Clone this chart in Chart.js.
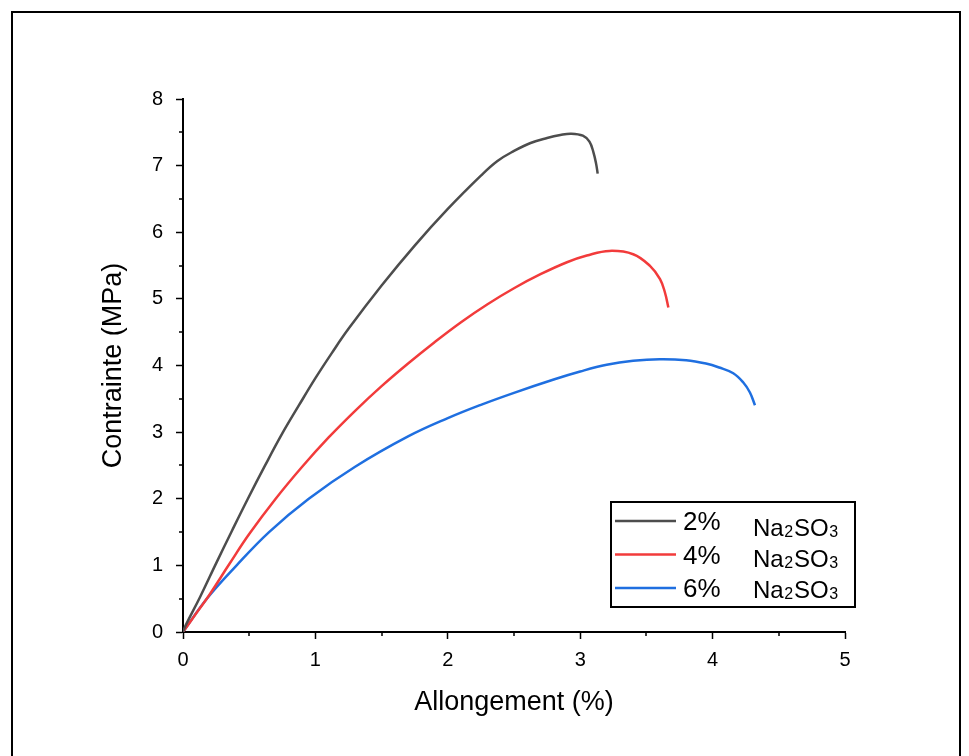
<!DOCTYPE html>
<html lang="fr">
<head>
<meta charset="utf-8">
<title>Contrainte - Allongement</title>
<script src="https://cdn.jsdelivr.net/npm/chart.js@4.4.1/dist/chart.umd.min.js"></script>
<style>
  html, body { margin: 0; padding: 0; background: #fff; }
  #cadre { width: 969px; height: 756px; }
</style>
</head>
<body>
<div id="cadre"><canvas id="graficaTraccion"></canvas></div>
<script>
// Courbes contrainte / allongement pour trois taux de Na2SO3
const etiquettes = ['2%', '4%', '6%'];
const couleurs = ['#4d4d4d', '#f23b3b', '#1f6fe0'];

// 2 % Na2SO3
const allong2 = [0, 0.02, 0.13, 0.25, 0.37, 0.49, 0.62, 0.75, 0.875, 1.0,  1.125, 1.25, 1.5,  1.75, 2.0,  2.25, 2.375, 2.5,  2.625, 2.75,  2.85, 2.93, 3.02, 3.07, 3.10, 3.12, 3.132];
const contr2  = [0, 0.1,  0.53, 1.03, 1.52, 2.0,  2.5,  2.98, 3.40,  3.81, 4.19,  4.55, 5.20, 5.80, 6.35, 6.85, 7.07,  7.22, 7.34,  7.415, 7.46, 7.48, 7.45, 7.36, 7.20, 7.03, 6.88];

// 4 % Na2SO3
const allong4 = [0, 0.1,  0.2,  0.35, 0.5,  0.7, 0.9,  1.1,  1.3,  1.5,  1.7,  1.9,  2.1,  2.3,  2.5,  2.7,  2.9,  3.05, 3.22, 3.40, 3.527, 3.603, 3.64, 3.666];
const contr4  = [0, 0.28, 0.56, 1.02, 1.47, 2.0, 2.48, 2.92, 3.32, 3.69, 4.03, 4.35, 4.65, 4.92, 5.16, 5.37, 5.55, 5.65, 5.72, 5.67, 5.495, 5.296, 5.096, 4.87];

// 6 % Na2SO3
const allong6 = [0, 0.18, 0.4,  0.65, 0.95, 1.3,  1.7,   2.0,  2.25, 2.5,  2.8,  3.0,  3.2,  3.4,  3.6,   3.8,  3.95, 4.05, 4.156, 4.232, 4.282, 4.32];
const contr6  = [0, 0.5,  0.99, 1.5,  2.0,  2.48, 2.935, 3.21, 3.41, 3.59, 3.79, 3.91, 4.01, 4.07, 4.095, 4.08, 4.03, 3.97, 3.884, 3.745, 3.595, 3.404];

const ticksX = [0, 1, 2, 3, 4, 5];
const ticksY = [0, 1, 2, 3, 4, 5, 6, 7, 8];

const police = '"Liberation Sans", Arial, sans-serif';

function points(xs, ys) {
  return xs.map((x, i) => ({ x: x, y: ys[i] }));
}

// Cadre noir autour de la figure
const cadre = {
  id: 'cadre',
  beforeDraw(chart) {
    const ctx = chart.ctx;
    ctx.save();
    ctx.fillStyle = '#fff';
    ctx.fillRect(0, 0, chart.width, chart.height);
    ctx.strokeStyle = '#000';
    ctx.lineWidth = 2;
    ctx.beginPath();
    ctx.moveTo(12, chart.height);
    ctx.lineTo(12, 12);
    ctx.lineTo(960, 12);
    ctx.lineTo(960, chart.height);
    ctx.stroke();
    ctx.restore();
  }
};

// Petites graduations intermédiaires (tous les 0,5)
const graduations = {
  id: 'graduations',
  afterDraw(chart) {
    const ctx = chart.ctx;
    const sx = chart.scales.x, sy = chart.scales.y;
    ctx.save();
    ctx.strokeStyle = '#000';
    ctx.lineWidth = 1.5;
    ctx.beginPath();
    for (let v = 0.5; v < 5; v += 1) {
      const px = Math.round(sx.getPixelForValue(v));
      ctx.moveTo(px, sy.bottom);
      ctx.lineTo(px, sy.bottom + 4);
    }
    for (let v = 0.5; v < 8; v += 1) {
      const py = Math.round(sy.getPixelForValue(v));
      ctx.moveTo(sx.left, py);
      ctx.lineTo(sx.left - 4, py);
    }
    ctx.stroke();
    ctx.restore();
  }
};

// Légende encadrée avec formule chimique en indices
const legende = {
  id: 'legende',
  afterDraw(chart) {
    const ctx = chart.ctx;
    const area = chart.chartArea;
    const x0 = area.right - 234, y0 = area.top + 403;
    ctx.save();
    ctx.strokeStyle = '#000';
    ctx.lineWidth = 2;
    ctx.strokeRect(x0, y0, 244, 105);
    chart.data.datasets.forEach((ds, i) => {
      const yl = y0 + 19 + i * 33.5;
      ctx.strokeStyle = ds.borderColor;
      ctx.lineWidth = 2.5;
      ctx.beginPath();
      ctx.moveTo(x0 + 4, yl);
      ctx.lineTo(x0 + 65, yl);
      ctx.stroke();

      ctx.fillStyle = '#000';
      ctx.textBaseline = 'alphabetic';
      ctx.textAlign = 'left';
      ctx.font = '26px ' + police;
      ctx.fillText(ds.label, x0 + 72, yl + 9);

      // Na2SO3
      let tx = x0 + 142;
      const ty = y0 + 34 + i * 30.8;
      const morceaux = [['Na', false], ['2', true], ['SO', false], ['3', true]];
      morceaux.forEach(([t, indice]) => {
        ctx.font = (indice ? '16px ' : '24px ') + police;
        ctx.fillText(t, tx, ty + (indice ? 1 : 0));
        tx += ctx.measureText(t).width + (indice ? 1 : 0.5);
      });
    });
    ctx.restore();
  }
};

const ctx = document.getElementById('graficaTraccion').getContext('2d');

new Chart(ctx, {
  type: 'line',
  data: {
    datasets: [
      { label: etiquettes[0], data: points(allong2, contr2), borderColor: couleurs[0] },
      { label: etiquettes[1], data: points(allong4, contr4), borderColor: couleurs[1] },
      { label: etiquettes[2], data: points(allong6, contr6), borderColor: couleurs[2] }
    ]
  },
  options: {
    responsive: true,
    maintainAspectRatio: false,
    animation: false,
    layout: { padding: { left: 0, top: 99, right: 124, bottom: 0 } },
    elements: {
      point: { radius: 0 },
      line: { borderWidth: 2.5, tension: 0.4, fill: false }
    },
    plugins: {
      legend: { display: false },
      tooltip: { enabled: false }
    },
    scales: {
      x: {
        type: 'linear',
        min: 0,
        max: 5,
        afterBuildTicks: s => { s.ticks = ticksX.map(v => ({ value: v })); },
        afterFit: s => { s.height = 124; },
        grid: { drawOnChartArea: false, drawTicks: true, tickLength: 7, tickWidth: 1.5, tickColor: '#000' },
        border: { display: true, color: '#000', width: 2 },
        ticks: { color: '#000', font: { family: police, size: 20 }, padding: 9, maxRotation: 0 },
        title: {
          display: true,
          text: 'Allongement (%)',
          color: '#000',
          font: { family: police, size: 27 },
          padding: { bottom: 37 }
        }
      },
      y: {
        type: 'linear',
        min: 0,
        max: 8,
        afterBuildTicks: s => { s.ticks = ticksY.map(v => ({ value: v })); },
        afterFit: s => { s.width = 183; },
        grid: { drawOnChartArea: false, drawTicks: true, tickLength: 7, tickWidth: 1.5, tickColor: '#000' },
        border: { display: true, color: '#000', width: 2 },
        ticks: { color: '#000', font: { family: police, size: 20 }, padding: 13 },
        title: {
          display: true,
          text: 'Contrainte (MPa)',
          color: '#000',
          font: { family: police, size: 27 },
          padding: { top: 97 }
        }
      }
    }
  },
  plugins: [cadre, graduations, legende]
});
</script>
</body>
</html>
